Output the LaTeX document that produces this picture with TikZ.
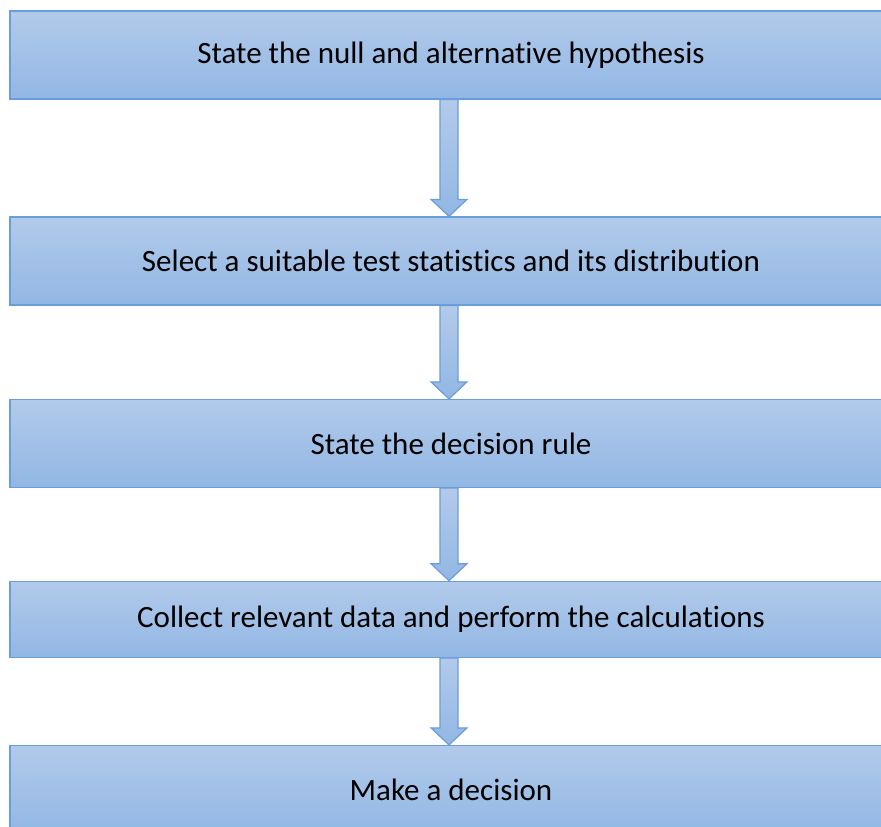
\documentclass[tikz,border=0pt]{standalone}
\usepackage{fontspec}
\setmainfont[Ligatures={NoCommon}]{Carlito}
\usetikzlibrary{positioning,calc}

\definecolor{boxtop}{RGB}{178,202,234}
\definecolor{boxbottom}{RGB}{146,183,228}
\definecolor{boxline}{RGB}{106,158,218}

\begin{document}
\begin{tikzpicture}
[x = 1pt, y = 1pt,
node distance = 94pt,
bluefill/.style = {draw = boxline, line width = 1.2pt, top color = boxtop, bottom color = boxbottom},
flowbox/.style = {bluefill, minimum width = 882pt, minimum height = 88pt, inner sep = 0pt,
  font = \fontsize{31}{36}\selectfont},
downarrow/.style = {to path = {let \p1 = (\tikztostart), \p2 = (\tikztotarget) in
    (\x1-9pt,\y1) -- (\x1+9pt,\y1) -- (\x1+9pt,\y2+17pt) -- (\x1+18pt,\y2+17pt)
    -- (\x1,\y2) -- (\x1-18pt,\y2+17pt) -- (\x1-9pt,\y2+17pt) -- cycle}},
]
\clip (0,0) rectangle (881,-827);
\useasboundingbox (0,0) rectangle (881,-827);
% the five steps
\node [flowbox] (hyp) at (451,-55) {State the null and alternative hypothesis};
\node [flowbox, below = 116.8pt of hyp] (stat) {Select a suitable test statistics and its distribution};
\node [flowbox, below = 93.3pt of stat] (rule) {State the decision rule};
\node [flowbox, below = 92.6pt of rule, minimum height = 76pt] (calc) {Collect relevant data and perform the calculations};
\node [flowbox, below = 87pt of calc] (decide) {Make a decision};
% arrows between them
\draw [bluefill] ([xshift=-2pt]hyp.south) to [downarrow] ([xshift=-2pt]stat.north);
\draw [bluefill] ([xshift=-2pt]stat.south) to [downarrow] ([xshift=-2pt]rule.north);
\draw [bluefill] ([xshift=-2pt]rule.south) to [downarrow] ([xshift=-2pt]calc.north);
\draw [bluefill] ([xshift=-2pt]calc.south) to [downarrow] ([xshift=-2pt]decide.north);
\end{tikzpicture}
\end{document}
